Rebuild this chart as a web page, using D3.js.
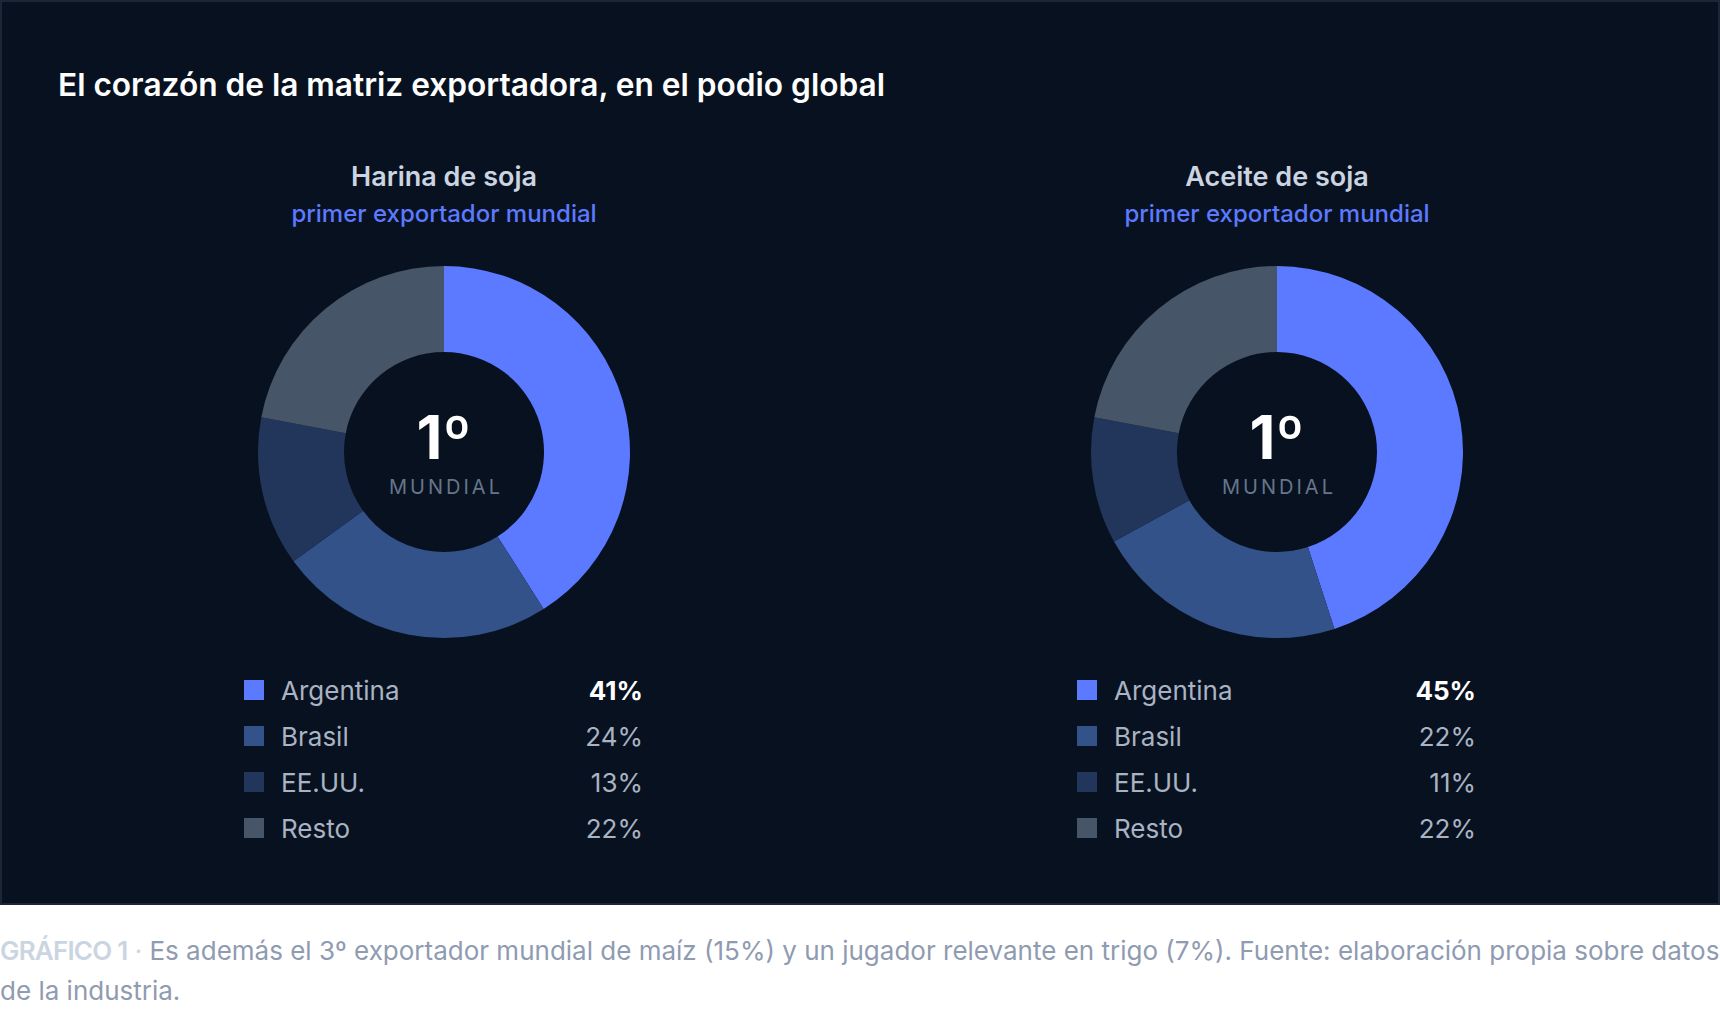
<!DOCTYPE html>
<html>
<head>
<meta charset="utf-8">
<script src="https://cdn.jsdelivr.net/npm/d3@7"></script>
<style>
  body { margin: 0; background: #ffffff; }
  svg { display: block; font-family: Inter, "Noto Sans", sans-serif; }
</style>
</head>
<body>
<svg id="chart" width="1720" height="1010"></svg>
<script>
// datos
var paises = ["Argentina", "Brasil", "EE.UU.", "Resto"];
var harinaValores = [41, 24, 13, 22];
var aceiteValores = [45, 22, 11, 22];
var colores = ["#5c7aff", "#34528a", "#22365c", "#475569"];
var productos = ["Harina de soja", "Aceite de soja"];
var subtitulo = "primer exportador mundial";
var titulo = "El corazón de la matriz exportadora, en el podio global";
var nota1 = "Es además el 3º exportador mundial de maíz (15%) y un jugador relevante en trigo (7%). Fuente: elaboración propia sobre datos";
var nota2 = "de la industria.";

var svg = d3.select("#chart"),
    width = +svg.attr("width"),
    panelHeight = 905,
    outerR = 186,
    innerR = 100;

// panel oscuro
svg.append("rect")
  .attr("x", 1).attr("y", 1)
  .attr("width", width - 2).attr("height", panelHeight - 2)
  .attr("fill", "#08111f")
  .attr("stroke", "#1c2636")
  .attr("stroke-width", 2);

svg.append("text")
  .attr("x", 58).attr("y", 96)
  .attr("fill", "#ffffff")
  .style("font-size", "31.7px")
  .style("font-weight", 600)
  .style("letter-spacing", "-0.02px")
  .text(titulo);

var xScale = d3.scalePoint().domain(productos).range([444, 1277]);

var pie = d3.pie().sort(null).value(function(d) { return d; });
var arc = d3.arc().innerRadius(innerR).outerRadius(outerR);
var color = d3.scaleOrdinal().domain(paises).range(colores);

function donut(producto, valores) {
  var cx = xScale(producto), cy = 452;
  var g = svg.append("g");

  g.append("text")
    .attr("x", cx).attr("y", 186)
    .attr("text-anchor", "middle")
    .attr("fill", "#cbd5e1")
    .style("font-size", "27px")
    .style("font-weight", 600)
    .text(producto);

  g.append("text")
    .attr("x", cx).attr("y", 222)
    .attr("text-anchor", "middle")
    .attr("fill", "#5c7aff")
    .style("font-size", "24px")
    .style("font-weight", 500)
    .text(subtitulo);

  g.append("g")
    .attr("transform", "translate(" + cx + "," + cy + ")")
    .selectAll("path")
    .data(pie(valores))
    .enter()
    .append("path")
    .attr("d", arc)
    .attr("fill", function(d, i) { return color(paises[i]); });

  var uno = g.append("text")
    .attr("x", cx).attr("y", 459)
    .attr("text-anchor", "middle")
    .attr("fill", "#ffffff")
    .style("font-weight", 700);
  uno.append("tspan").style("font-size", "60px").text("1");
  uno.append("tspan").style("font-size", "60px").text("º");

  g.append("text")
    .attr("x", cx + 2).attr("y", 494)
    .attr("text-anchor", "middle")
    .attr("fill", "#66758b")
    .style("font-size", "20px")
    .style("letter-spacing", "3px")
    .text("MUNDIAL");

  // leyenda
  var yLeg = d3.scalePoint().domain(paises).range([690, 828]);
  var filas = g.selectAll(".fila")
    .data(paises)
    .enter()
    .append("g")
    .attr("transform", function(d) { return "translate(0," + yLeg(d) + ")"; });

  filas.append("rect")
    .attr("x", cx - 200).attr("y", -10)
    .attr("width", 20).attr("height", 20)
    .attr("fill", function(d) { return color(d); });

  filas.append("text")
    .attr("x", cx - 163).attr("y", 10)
    .attr("fill", "#a9b3c3")
    .style("font-size", "26px")
    .text(function(d) { return d; });

  filas.append("text")
    .attr("x", cx + 199).attr("y", 10)
    .attr("text-anchor", "end")
    .attr("fill", function(d, i) { return i === 0 ? "#ffffff" : "#a9b3c3"; })
    .style("font-size", "26px")
    .style("font-weight", function(d, i) { return i === 0 ? 700 : 400; })
    .text(function(d, i) { return valores[i] + "%"; });
}

donut(productos[0], harinaValores);
donut(productos[1], aceiteValores);

// nota al pie
var nota = svg.append("text")
  .attr("x", 0).attr("y", 960)
  .style("font-size", "26px");
nota.append("tspan").attr("fill", "#cbd5e1").style("font-weight", 600).style("letter-spacing", "-0.8px").text("GRÁFICO 1");
nota.append("tspan").attr("fill", "#cbd5e1").text(" · ");
nota.append("tspan").attr("fill", "#8f9bb0").text(nota1);

svg.append("text")
  .attr("x", 0).attr("y", 1000)
  .attr("fill", "#8f9bb0")
  .style("font-size", "26px")
  .text(nota2);
</script>
</body>
</html>
